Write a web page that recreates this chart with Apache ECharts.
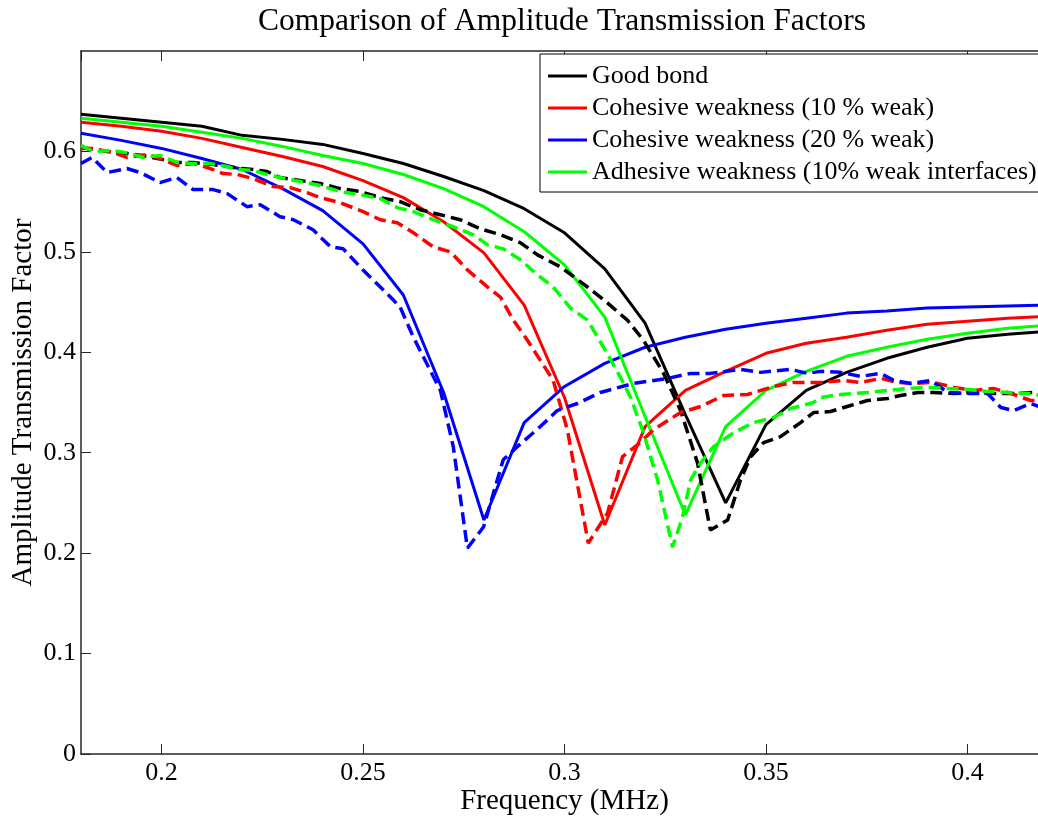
<!DOCTYPE html>
<html lang="en">
<head>
  <meta charset="UTF-8">
  <title>Comparison of Amplitude Transmission Factors</title>
  <style>
    html, body { margin: 0; padding: 0; background: #fff; }
    #chart { width: 1038px; height: 818px; }
  </style>
  <script src="https://cdn.jsdelivr.net/npm/echarts@6/dist/echarts.min.js"></script>
</head>
<body>
  <div id="chart"></div>
  <script>
    // frequency grid of the simulated (solid) curves, MHz
    const freq = [0.18, 0.19, 0.20, 0.21, 0.22, 0.23, 0.24, 0.25, 0.26, 0.27, 0.28, 0.29, 0.30,
                  0.31, 0.32, 0.33, 0.34, 0.35, 0.36, 0.37, 0.38, 0.39, 0.40, 0.41, 0.42];

    // simulated curves (solid)
    const goodBond = [0.637, 0.633, 0.629, 0.625, 0.616, 0.612, 0.607, 0.598, 0.588, 0.575, 0.561, 0.543, 0.519,
                      0.483, 0.429, 0.338, 0.250, 0.328, 0.362, 0.380, 0.394, 0.405, 0.414, 0.418, 0.421];
    const cohesive10 = [0.629, 0.625, 0.620, 0.613, 0.604, 0.595, 0.585, 0.571, 0.554, 0.530, 0.499, 0.447, 0.355,
                        0.228, 0.326, 0.362, 0.381, 0.399, 0.409, 0.415, 0.422, 0.428, 0.431, 0.434, 0.436];
    const cohesive20 = [0.618, 0.611, 0.603, 0.593, 0.582, 0.563, 0.541, 0.508, 0.457, 0.360, 0.233, 0.330, 0.366,
                        0.389, 0.405, 0.415, 0.423, 0.429, 0.434, 0.439, 0.441, 0.444, 0.445, 0.446, 0.447];
    const adhesive10 = [0.633, 0.629, 0.625, 0.619, 0.613, 0.605, 0.596, 0.588, 0.577, 0.563, 0.545, 0.520, 0.487,
                        0.435, 0.336, 0.238, 0.326, 0.362, 0.381, 0.396, 0.405, 0.413, 0.419, 0.424, 0.427];

    // second set of curves (dashed), read at their own frequencies
    const goodBondDX = [0.18, 0.1865, 0.1914, 0.1964, 0.2038, 0.2078, 0.2128, 0.2195, 0.2227, 0.2262, 0.2294, 0.2344,
                        0.2394, 0.2443, 0.2493, 0.2543, 0.2592, 0.2642, 0.2692, 0.2741, 0.2791, 0.2841, 0.2891, 0.2933,
                        0.2990, 0.3057, 0.3107, 0.3156, 0.3196, 0.3246, 0.3288, 0.3330, 0.3362, 0.3405, 0.3437, 0.3462,
                        0.3494, 0.3536, 0.3586, 0.3618, 0.3660, 0.3710, 0.3752, 0.3802, 0.3834, 0.3877, 0.3916, 0.3966,
                        0.4016, 0.4065, 0.4115, 0.4165, 0.42];
    const goodBondDY = [0.604, 0.600, 0.598, 0.595, 0.589, 0.589, 0.587, 0.583, 0.582, 0.580, 0.574, 0.571,
                        0.568, 0.563, 0.560, 0.554, 0.550, 0.542, 0.537, 0.532, 0.523, 0.517, 0.509, 0.497,
                        0.485, 0.465, 0.449, 0.432, 0.412, 0.379, 0.342, 0.290, 0.223, 0.233, 0.273, 0.296,
                        0.310, 0.316, 0.330, 0.340, 0.341, 0.347, 0.352, 0.354, 0.357, 0.360, 0.360, 0.359,
                        0.360, 0.359, 0.359, 0.360, 0.360];

    const cohesive10DX = [0.18, 0.1830, 0.1879, 0.1914, 0.1964, 0.1996, 0.2038, 0.2078, 0.2113, 0.2153, 0.2188, 0.2227,
                          0.2277, 0.2319, 0.2361, 0.2394, 0.2443, 0.2500, 0.2543, 0.2585, 0.2625, 0.2674, 0.2717, 0.2759,
                          0.2809, 0.2841, 0.2873, 0.2908, 0.2972, 0.3007, 0.3059, 0.3107, 0.3144, 0.3188, 0.3221, 0.3288,
                          0.3338, 0.3395, 0.3454, 0.3519, 0.3569, 0.3636, 0.3693, 0.3735, 0.3785, 0.3827, 0.3867, 0.3916,
                          0.3966, 0.4016, 0.4065, 0.4108, 0.4157, 0.42];
    const cohesive10DY = [0.603, 0.603, 0.599, 0.594, 0.597, 0.593, 0.586, 0.588, 0.584, 0.578, 0.577, 0.573,
                          0.565, 0.564, 0.559, 0.554, 0.549, 0.540, 0.532, 0.529, 0.519, 0.505, 0.500, 0.482,
                          0.465, 0.455, 0.432, 0.412, 0.372, 0.323, 0.210, 0.240, 0.296, 0.310, 0.323, 0.340,
                          0.346, 0.357, 0.358, 0.366, 0.370, 0.370, 0.372, 0.370, 0.374, 0.370, 0.369, 0.370,
                          0.365, 0.362, 0.364, 0.359, 0.352, 0.352];

    const cohesive20DX = [0.18, 0.1827, 0.1865, 0.1914, 0.1947, 0.1996, 0.2038, 0.2078, 0.2128, 0.2163, 0.2212, 0.2245,
                          0.2294, 0.2327, 0.2376, 0.2419, 0.2451, 0.2500, 0.2568, 0.2592, 0.2625, 0.2692, 0.2724, 0.2759,
                          0.2799, 0.2848, 0.2883, 0.2940, 0.2982, 0.3032, 0.3089, 0.3171, 0.3256, 0.3313, 0.3362, 0.3437,
                          0.3487, 0.3561, 0.3603, 0.3636, 0.3685, 0.3735, 0.3785, 0.3817, 0.3859, 0.3909, 0.3951, 0.4001,
                          0.4050, 0.4083, 0.4115, 0.4157, 0.42];
    const cohesive20DY = [0.588, 0.594, 0.579, 0.583, 0.579, 0.569, 0.574, 0.562, 0.562, 0.558, 0.545, 0.547,
                          0.535, 0.532, 0.522, 0.505, 0.503, 0.482, 0.455, 0.445, 0.415, 0.362, 0.306, 0.205,
                          0.226, 0.293, 0.306, 0.326, 0.342, 0.349, 0.360, 0.369, 0.374, 0.379, 0.379, 0.383,
                          0.380, 0.383, 0.379, 0.381, 0.380, 0.376, 0.379, 0.372, 0.369, 0.372, 0.360, 0.359,
                          0.359, 0.345, 0.342, 0.349, 0.343];

    const adhesive10DX = [0.18, 0.1830, 0.1879, 0.1922, 0.1954, 0.1996, 0.2038, 0.2078, 0.2120, 0.2163, 0.2188, 0.2227,
                          0.2262, 0.2294, 0.2344, 0.2394, 0.2443, 0.2493, 0.2543, 0.2585, 0.2625, 0.2674, 0.2724, 0.2774,
                          0.2809, 0.2848, 0.2891, 0.2933, 0.2972, 0.3015, 0.3057, 0.3097, 0.3139, 0.3164, 0.3196, 0.3231,
                          0.3268, 0.3293, 0.3313, 0.3338, 0.3370, 0.3420, 0.3469, 0.3519, 0.3561, 0.3618, 0.3636, 0.3685,
                          0.3752, 0.3802, 0.3852, 0.3901, 0.3951, 0.4001, 0.4050, 0.4100, 0.4150, 0.42];
    const adhesive10DY = [0.606, 0.600, 0.601, 0.598, 0.594, 0.596, 0.589, 0.588, 0.588, 0.585, 0.582, 0.581,
                          0.577, 0.574, 0.570, 0.566, 0.560, 0.557, 0.553, 0.544, 0.540, 0.532, 0.525, 0.517,
                          0.507, 0.503, 0.492, 0.477, 0.465, 0.444, 0.432, 0.405, 0.375, 0.355, 0.320, 0.273,
                          0.206, 0.236, 0.273, 0.290, 0.306, 0.320, 0.330, 0.335, 0.344, 0.350, 0.355, 0.358,
                          0.360, 0.362, 0.364, 0.365, 0.364, 0.363, 0.361, 0.360, 0.359, 0.356];

    const legendNames = ['Good bond', 'Cohesive weakness (10 % weak)', 'Cohesive weakness (20 % weak)',
                         'Adhesive weakness (10% weak interfaces)'];
    const colors = ['#000000', '#ff0000', '#0000ff', '#00ff00'];

    const serif = "'Liberation Serif', 'Times New Roman', serif";

    function zip(xs, ys) {
      return xs.map((x, i) => [x, ys[i]]);
    }

    const solidSets = [goodBond, cohesive10, cohesive20, adhesive10];
    const dashedSets = [[goodBondDX, goodBondDY], [cohesive10DX, cohesive10DY],
                        [cohesive20DX, cohesive20DY], [adhesive10DX, adhesive10DY]];

    const series = [];
    solidSets.forEach((ys, i) => {
      series.push({
        name: legendNames[i],
        type: 'line',
        data: zip(freq, ys),
        symbol: 'none',
        lineStyle: { color: colors[i], width: 3 },
        itemStyle: { color: colors[i] },
        z: 2
      });
    });
    dashedSets.forEach(([xs, ys], i) => {
      series.push({
        name: legendNames[i] + ' - dashed',
        type: 'line',
        data: zip(xs, ys),
        symbol: 'none',
        lineStyle: { color: colors[i], width: 3.5, type: [12, 6] },
        itemStyle: { color: colors[i] },
        z: 3
      });
    });

    const chart = echarts.init(document.getElementById('chart'));

    const axisLine = { show: true, lineStyle: { color: '#262626', width: 1.5 } };
    const tick = { show: true, inside: true, length: 10, lineStyle: { color: '#262626', width: 1 } };

    chart.setOption({
      animation: false,
      backgroundColor: '#ffffff',
      title: {
        text: 'Comparison of Amplitude Transmission Factors',
        left: 562,
        top: 6,
        textAlign: 'center',
        padding: 0,
        textStyle: { fontFamily: serif, fontSize: 31.5, fontWeight: 'normal', color: '#000' }
      },
      legend: {
        data: legendNames,
        orient: 'vertical',
        left: 540,
        top: 54,
        padding: [9, 10, 7, 8],
        icon: 'rect',
        itemWidth: 39,
        itemHeight: 3,
        itemGap: 6,
        borderColor: '#000',
        borderWidth: 1,
        backgroundColor: '#fff',
        textStyle: { fontFamily: serif, fontSize: 26, color: '#000' }
      },
      grid: { left: 81, right: -10, top: 51, bottom: 64, containLabel: false, outerBoundsMode: 'none' },
      xAxis: [
        {
          type: 'value',
          min: 0.18,
          max: 0.42,
          splitNumber: 5,
          name: 'Frequency (MHz)',
          nameLocation: 'middle',
          nameGap: 33,
          nameMoveOverlap: false,
          nameTextStyle: { fontFamily: serif, fontSize: 29, color: '#000' },
          axisLine: axisLine,
          axisTick: tick,
          splitLine: { show: false },
          axisLabel: {
            showMinLabel: false,
            showMaxLabel: false,
            margin: 6,
            fontFamily: serif,
            fontSize: 26,
            color: '#000'
          }
        },
        {
          type: 'value',
          position: 'top',
          min: 0.18,
          max: 0.42,
          splitNumber: 5,
          axisLine: axisLine,
          axisTick: tick,
          splitLine: { show: false },
          axisLabel: { show: false }
        }
      ],
      yAxis: {
        type: 'value',
        min: 0,
        max: 0.7,
        interval: 0.1,
        name: 'Amplitude Transmission Factor',
        nameLocation: 'middle',
        nameGap: 43,
        nameMoveOverlap: false,
        nameTextStyle: { fontFamily: serif, fontSize: 29, color: '#000' },
        axisLine: axisLine,
        axisTick: tick,
        splitLine: { show: false },
        axisLabel: {
          showMaxLabel: false,
          margin: 5,
          fontFamily: serif,
          fontSize: 26,
          color: '#000'
        }
      },
      series: series
    });
  </script>
</body>
</html>
